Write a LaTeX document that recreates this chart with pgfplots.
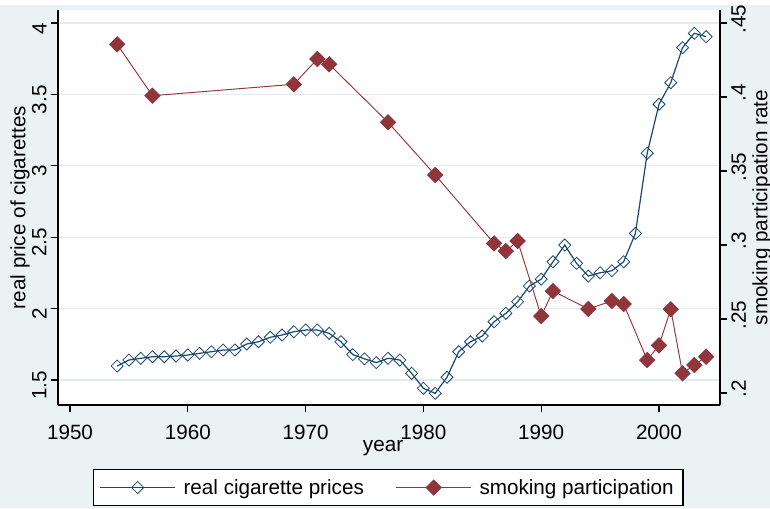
\documentclass[border=0pt]{standalone}
\usepackage{fontspec}
\setmainfont{Liberation Sans}
\usepackage{pgfplots}
\pgfplotsset{compat=1.18}
\definecolor{bg}{RGB}{234,242,243}
\definecolor{grd}{RGB}{226,236,238}
\definecolor{navy}{RGB}{26,71,111}
\definecolor{maroon}{RGB}{144,53,59}
\begin{document}
\begin{tikzpicture}
\fill[white] (-43.5pt,-77.25pt) rectangle (534pt,303.75pt);
\fill[bg] (-43.5pt,-77.25pt) rectangle (534pt,300pt);
\path[use as bounding box] (-43.5pt,-77.25pt) rectangle (534pt,303.75pt);
\pgfplotsset{
  every axis/.append style={scale only axis, width=496.5pt, height=296.25pt,
    xmin=1948.98, xmax=2005.18,
    font=\fontsize{15.5}{18}\selectfont,
    tick align=outside, major tick length=5pt,
    axis line style={-, line width=0.9pt, black},
    tick style={black, line width=0.9pt}},
}
\begin{axis}[
  axis x line*=bottom, axis y line*=left,
  ymin=1.325, ymax=4.091,
  ytick={1.5,2,2.5,3,3.5,4}, yticklabels={1.5,2,2.5,3,3.5,4},
  xtick={1950,1960,1970,1980,1990,2000}, xticklabels={1950,1960,1970,1980,1990,2000},
  ymajorgrids, major grid style={grd, line width=1pt},
  axis background/.style={fill=white},
  yticklabel style={rotate=90, anchor=south, xshift=-4pt},
  xticklabel style={yshift=-6.5pt},
  xlabel={year}, ylabel={real price of cigarettes},
  xlabel style={at={(axis description cs:0.4910,-0.1080)}, anchor=center},
  ylabel style={at={(axis description cs:-0.0574,0.5)}, anchor=center},
]
\addplot[navy, line width=0.9pt, mark=square, mark size=3.2pt, mark options={rotate=45, solid, line width=0.6pt}] table {
1954 1.598
1955 1.640
1956 1.652
1957 1.663
1958 1.663
1959 1.668
1960 1.675
1961 1.687
1962 1.698
1963 1.710
1964 1.710
1965 1.752
1966 1.768
1967 1.799
1968 1.815
1969 1.838
1970 1.850
1971 1.850
1972 1.827
1973 1.768
1974 1.678
1975 1.648
1976 1.622
1977 1.652
1978 1.640
1979 1.547
1980 1.442
1981 1.407
1982 1.519
1983 1.698
1984 1.768
1985 1.808
1986 1.908
1987 1.967
1988 2.048
1989 2.158
1990 2.206
1991 2.328
1992 2.445
1993 2.317
1994 2.228
1995 2.251
1996 2.265
1997 2.328
1998 2.527
1999 3.088
2000 3.431
2001 3.582
2002 3.827
2003 3.928
2004 3.904
};
\end{axis}
\begin{axis}[
  axis x line=none, axis y line*=right,
  ymin=0.1919, ymax=0.4588,
  ytick={0.2,0.25,0.3,0.35,0.4,0.45}, yticklabels={.2,.25,.3,.35,.4,.45},
  yticklabel style={rotate=90, anchor=north, xshift=3pt},
  ylabel={smoking participation rate},
  ylabel style={at={(axis description cs:1.0634,0.5)}, anchor=center},
  legend columns=2,
  legend cell align=left,
  legend image code/.code={\draw[mark repeat=2, mark phase=2, #1] plot coordinates {(0pt,0pt) (28pt,0pt) (56pt,0pt)};},
  legend style={at={(axis description cs:0.4985,-0.2089)}, anchor=center, draw=black, line width=0.8pt, fill=white,
    inner ysep=5pt, inner xsep=5pt,
    /tikz/every even column/.append style={column sep=22pt},
    /tikz/every odd column/.append style={column sep=4pt},
    font=\fontsize{15.5}{18}\selectfont},
]
\addlegendimage{navy, line width=0.9pt, mark=square, mark size=3.2pt, mark options={rotate=45, solid, line width=0.6pt}}
\addlegendentry{real cigarette prices}
\addplot[maroon, line width=0.7pt, mark=square*, mark size=4pt, mark options={rotate=45, solid, fill=maroon}] table {
1954 0.4356
1957 0.4009
1969 0.4086
1971 0.4257
1972 0.4221
1977 0.3829
1981 0.3473
1986 0.3011
1987 0.2959
1988 0.3027
1990 0.2520
1991 0.2689
1994 0.2568
1996 0.2622
1997 0.2601
1999 0.2223
2000 0.2322
2001 0.2566
2002 0.2133
2003 0.2189
2004 0.2245
};
\addlegendentry{smoking participation}
\end{axis}
\end{tikzpicture}
\end{document}
